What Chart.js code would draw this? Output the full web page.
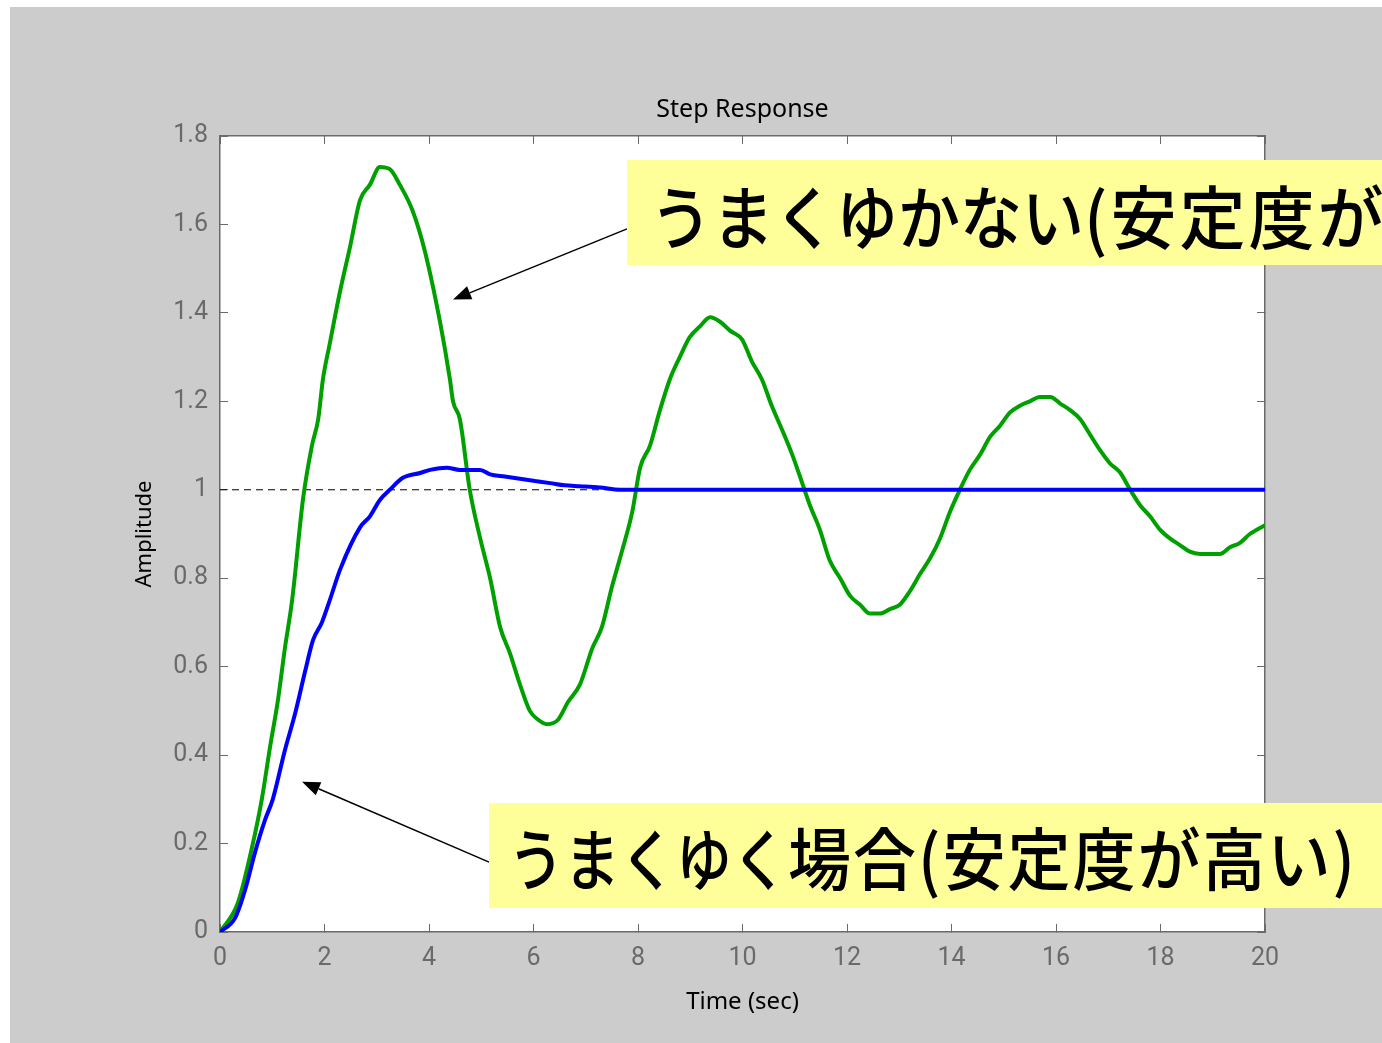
<!DOCTYPE html>
<html>
<head>
<meta charset="utf-8">
<script src="https://cdn.jsdelivr.net/npm/chart.js@4.4.0/dist/chart.umd.min.js"></script>
<style>
  html, body { margin: 0; padding: 0; background: #ffffff; }
  #wrap { position: absolute; left: 10px; top: 7px; width: 1372px; height: 1036px; background: #cccccc; }
</style>
</head>
<body>
<div id="wrap"><canvas id="chart" width="1372" height="1036"></canvas></div>
<script>
// unstable loop (green)
const timeGreen = [0, 0.34, 0.61, 0.8, 0.96, 1.11, 1.24, 1.38, 1.59, 1.76, 1.88, 1.97, 2.1, 2.3, 2.49, 2.68, 2.87, 3.06, 3.25, 3.44,
  3.69, 3.92, 4.21, 4.4, 4.46, 4.59, 4.78, 4.98, 5.17, 5.36, 5.55, 5.74, 5.93, 6.09, 6.26, 6.47, 6.66, 6.89, 7.12, 7.31, 7.5,
  7.69, 7.89, 8.04, 8.23, 8.42, 8.61, 8.8, 8.99, 9.19, 9.38, 9.57, 9.76, 9.99, 10.18, 10.37, 10.56, 10.76, 10.95, 11.1, 11.29,
  11.48, 11.67, 11.87, 12.06, 12.25, 12.44, 12.63, 12.82, 13.01, 13.2, 13.4, 13.59, 13.78, 13.97, 14.16, 14.35, 14.55, 14.74, 14.93, 15.12,
  15.31, 15.5, 15.69, 15.89, 16.08, 16.27, 16.46, 16.65, 16.84, 17.03, 17.22, 17.42, 17.61, 17.8, 17.99, 18.18, 18.37, 18.56, 18.76, 18.95,
  19.14, 19.33, 19.52, 19.71, 20];
const ampGreen = [0, 0.065, 0.19, 0.30, 0.42, 0.525, 0.64, 0.75, 0.98, 1.10, 1.16, 1.25, 1.33, 1.45, 1.55, 1.655, 1.69, 1.73, 1.725, 1.69,
  1.63, 1.54, 1.38, 1.25, 1.20, 1.16, 1.00, 0.89, 0.80, 0.69, 0.63, 0.56, 0.50, 0.48, 0.47, 0.48, 0.52, 0.56, 0.64, 0.69, 0.78,
  0.86, 0.95, 1.05, 1.10, 1.18, 1.25, 1.30, 1.345, 1.37, 1.39, 1.38, 1.36, 1.34, 1.29, 1.25, 1.19, 1.135, 1.08, 1.03, 0.965,
  0.91, 0.84, 0.80, 0.76, 0.74, 0.72, 0.72, 0.73, 0.74, 0.77, 0.81, 0.845, 0.89, 0.95, 1.00, 1.045, 1.08, 1.12, 1.145, 1.175,
  1.19, 1.20, 1.21, 1.21, 1.195, 1.18, 1.16, 1.125, 1.09, 1.06, 1.04, 1.00, 0.965, 0.94, 0.91, 0.89, 0.875, 0.86, 0.855, 0.855,
  0.855, 0.87, 0.88, 0.90, 0.92];

// stable loop (blue)
const timeBlue = [0, 0.29, 0.48, 0.67, 0.86, 1.01, 1.24, 1.44, 1.63, 1.78, 1.95, 2.1, 2.3, 2.68, 2.87, 3.06, 3.25, 3.5, 3.83, 4.02,
  4.34, 4.59, 4.98, 5.17, 5.45, 5.74, 6.03, 6.32, 6.6, 6.89, 7.27, 7.66, 10, 15, 20];
const ampBlue = [0, 0.032, 0.095, 0.18, 0.253, 0.30, 0.41, 0.495, 0.59, 0.66, 0.70, 0.75, 0.82, 0.915, 0.94, 0.977, 1.0, 1.027, 1.038, 1.045,
  1.05, 1.045, 1.045, 1.035, 1.03, 1.025, 1.02, 1.015, 1.01, 1.008, 1.005, 1.0, 1.0, 1.0, 1.0];

// steady-state reference
const refTime = [0, 20];
const refAmp = [1, 1];

const xTicks = [0, 2, 4, 6, 8, 10, 12, 14, 16, 18, 20];
const yTicks = [0, 0.2, 0.4, 0.6, 0.8, 1, 1.2, 1.4, 1.6, 1.8];

// callouts: text runs (kana run narrower, kanji run larger), box (px), arrow from/to in data units
const notes = [
  {
    runs: [
      { t: 'うまくゆかない', size: 62, sy: 1.12, ls: 0 },
      { t: '(安定度が低い)', size: 66, sy: 1.05, ls: 3 }
    ],
    box: [617, 153, 755, 105], tx: 640, ty: 211, from: [7.79, 1.59], to: [4.46, 1.43]
  },
  {
    runs: [
      { t: 'うまくゆく', size: 56, sy: 1.2, ls: 0 },
      { t: '場合(安定度が高い)', size: 63, sy: 1.08, ls: 2 }
    ],
    box: [479, 796, 893, 105], tx: 498, ty: 852, from: [5.15, 0.158], to: [1.57, 0.34]
  }
];

const toPts = (xs, ys) => xs.map((x, i) => ({ x: x, y: ys[i] }));

const axisGray = '#6a6a6a';
const tickFont = { family: 'Roboto, "Liberation Sans", sans-serif', size: 25 };

const plotBg = {
  id: 'plotBg',
  beforeDraw(chart) {
    const { ctx, chartArea: a } = chart;
    ctx.save();
    ctx.fillStyle = '#ffffff';
    ctx.fillRect(a.left, a.top, a.right - a.left, a.bottom - a.top);
    ctx.restore();
  }
};

const calloutPlugin = {
  id: 'callouts',
  afterDraw(chart) {
    const ctx = chart.ctx;
    const xs = chart.scales.x, ys = chart.scales.y;
    ctx.save();
    notes.forEach(n => {
      const x1 = xs.getPixelForValue(n.from[0]), y1 = ys.getPixelForValue(n.from[1]);
      const x2 = xs.getPixelForValue(n.to[0]), y2 = ys.getPixelForValue(n.to[1]);
      ctx.strokeStyle = '#000';
      ctx.fillStyle = '#000';
      ctx.lineWidth = 1.5;
      const ang = Math.atan2(y2 - y1, x2 - x1);
      const hl = 18, hw = 7;
      const bx = x2 - hl * Math.cos(ang), by = y2 - hl * Math.sin(ang);
      ctx.beginPath();
      ctx.moveTo(x1, y1);
      ctx.lineTo(bx, by);
      ctx.stroke();
      ctx.beginPath();
      ctx.moveTo(x2, y2);
      ctx.lineTo(bx + hw * Math.sin(ang), by - hw * Math.cos(ang));
      ctx.lineTo(bx - hw * Math.sin(ang), by + hw * Math.cos(ang));
      ctx.closePath();
      ctx.fill();

      ctx.fillStyle = '#ffff99';
      ctx.fillRect(n.box[0], n.box[1], n.box[2], n.box[3]);
      ctx.fillStyle = '#000';
      ctx.textBaseline = 'middle';
      ctx.textAlign = 'left';
      let x = n.tx;
      n.runs.forEach(r => {
        ctx.save();
        ctx.font = '500 ' + r.size + 'px "Noto Sans CJK JP", sans-serif';
        ctx.letterSpacing = r.ls + 'px';
        const w = ctx.measureText(r.t).width;
        ctx.translate(x, n.ty);
        ctx.scale(1, r.sy);
        ctx.fillText(r.t, 0, 0);
        ctx.restore();
        x += w;
      });
    });
    ctx.restore();
  }
};

const fixedTicks = values => function (scale) {
  scale.ticks = values.map(v => ({ value: v }));
};
const tickText = v => String(Math.round(v * 10) / 10);

new Chart(document.getElementById('chart').getContext('2d'), {
  type: 'scatter',
  data: {
    datasets: [
      {
        data: toPts(refTime, refAmp),
        showLine: true,
        borderColor: '#000',
        borderWidth: 1,
        borderDash: [7, 5],
        pointRadius: 0,
        order: 3
      },
      {
        data: toPts(timeGreen, ampGreen),
        showLine: true,
        borderColor: '#00a000',
        borderWidth: 4,
        pointRadius: 0,
        cubicInterpolationMode: 'monotone',
        order: 2
      },
      {
        data: toPts(timeBlue, ampBlue),
        showLine: true,
        borderColor: '#0000ff',
        borderWidth: 4,
        pointRadius: 0,
        cubicInterpolationMode: 'monotone',
        order: 1
      }
    ]
  },
  options: {
    responsive: false,
    animation: false,
    layout: { padding: { left: 0, right: 117, top: 0, bottom: 0 } },
    plugins: {
      legend: { display: false },
      tooltip: { enabled: false },
      title: {
        display: true,
        fullSize: false,
        text: 'Step Response',
        color: '#000',
        font: { family: '"Noto Sans", sans-serif', size: 25, weight: 'normal', lineHeight: 1.2 },
        padding: { top: 88, bottom: 11 }
      }
    },
    scales: {
      x: {
        type: 'linear',
        position: 'bottom',
        min: 0, max: 20,
        afterBuildTicks: fixedTicks(xTicks),
        afterFit: s => { s.height = 111; },
        ticks: { color: axisGray, font: tickFont, padding: 20, maxRotation: 0, callback: tickText },
        grid: { drawOnChartArea: false, drawTicks: true, tickLength: -8, color: axisGray, lineWidth: 1 },
        border: { display: true, color: axisGray, width: 1.5 },
        title: { display: true, text: 'Time (sec)', color: '#000', font: { family: '"Noto Sans", sans-serif', size: 24 }, padding: { top: 0, bottom: 26 } }
      },
      y: {
        type: 'linear',
        position: 'left',
        min: 0, max: 1.8,
        afterBuildTicks: fixedTicks(yTicks),
        afterFit: s => { s.width = 210; },
        ticks: { color: axisGray, font: tickFont, padding: 20, callback: tickText },
        grid: { drawOnChartArea: false, drawTicks: true, tickLength: -8, color: axisGray, lineWidth: 1 },
        border: { display: true, color: axisGray, width: 1.5 },
        title: { display: true, text: 'Amplitude', color: '#000', font: { family: '"Noto Sans", sans-serif', size: 22 }, padding: { top: 122, bottom: 0 } }
      },
      x2: {
        type: 'linear',
        position: 'top',
        min: 0, max: 20,
        afterBuildTicks: fixedTicks(xTicks),
        afterFit: s => { s.height = 0; },
        ticks: { display: false },
        grid: { drawOnChartArea: false, drawTicks: true, tickLength: -8, color: axisGray, lineWidth: 1 },
        border: { display: true, color: axisGray, width: 1.5 }
      },
      y2: {
        type: 'linear',
        position: 'right',
        min: 0, max: 1.8,
        afterBuildTicks: fixedTicks(yTicks),
        afterFit: s => { s.width = 0; },
        ticks: { display: false },
        grid: { drawOnChartArea: false, drawTicks: true, tickLength: -8, color: axisGray, lineWidth: 1 },
        border: { display: true, color: axisGray, width: 1.5 }
      }
    }
  },
  plugins: [plotBg, calloutPlugin]
});
</script>
</body>
</html>
